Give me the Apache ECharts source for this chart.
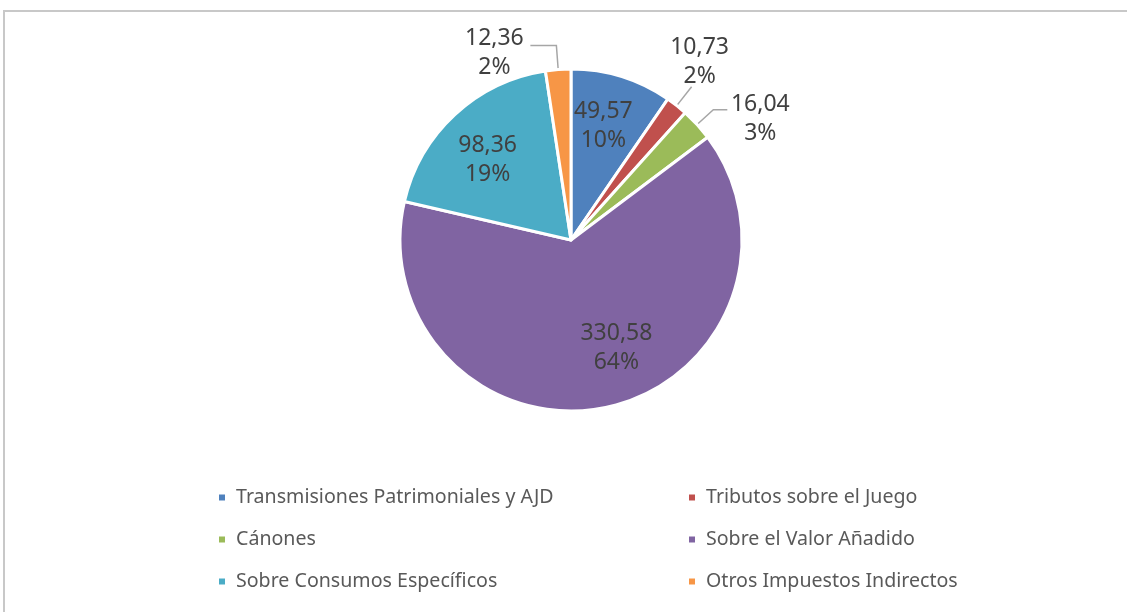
<!DOCTYPE html>
<html>
<head>
<meta charset="utf-8">
<script src="https://cdn.jsdelivr.net/npm/echarts@6/dist/echarts.min.js"></script>
<style>
html,body{margin:0;padding:0;background:#fff;}
#chart{width:1127px;height:612px;}
</style>
</head>
<body>
<div id="chart"></div>
<script>
const categories = ['Transmisiones Patrimoniales y AJD','Tributos sobre el Juego','Cánones','Sobre el Valor Añadido','Sobre Consumos Específicos','Otros Impuestos Indirectos'];
const values = [49.57, 10.73, 16.04, 330.58, 98.36, 12.36];
const colors = ['#4F81BD','#C0504D','#9BBB59','#8064A2','#4BACC6','#F79646'];
const insideLabel = [true, false, false, true, true, false];

const total = values.reduce((a,b)=>a+b,0);
const fmt = v => v.toFixed(2).replace('.', ',') + '\n' + Math.round(v/total*100) + '%';
const FONT = '"Noto Sans", sans-serif';
const center = [571, 240];
const R = 171;

// label nudges (styling only)
const outsideLine = {1:{length:24,length2:0}, 2:{length:22,length2:14}, 5:{length:24,length2:26}};
const outsideNudge = {1:[3,-25], 2:[28,9], 5:[-31,7]};
const insideNudge = {0:[-4,3], 3:[20,-12], 4:[0,10]};

const mainData = categories.map((c,i)=>({
  name:c, value:values[i], itemStyle:{color:colors[i]},
  label:{show:!insideLabel[i]},
  labelLine:Object.assign({show:!insideLabel[i]}, outsideLine[i]||{})
}));
const overlayData = categories.map((c,i)=>({
  name:c, value:values[i], label:{show:insideLabel[i]}
}));

const labelStyle = {formatter:p=>fmt(p.value), fontFamily:FONT, fontSize:23, color:'#404040', lineHeight:29};
const legendText = {fontFamily:FONT, fontSize:19.6, color:'#595959', lineHeight:23, padding:[0,0,0,5]};

const chart = echarts.init(document.getElementById('chart'));
chart.setOption({
  animation:false,
  color:colors,
  graphic:[{type:'rect', shape:{x:4, y:11, width:1300, height:800}, style:{fill:null, stroke:'#c8c8c8', lineWidth:2}, silent:true}],
  legend:[
    {data:[categories[0],categories[2],categories[4]], orient:'vertical', left:212, top:481, icon:'rect', itemWidth:8, itemHeight:8, itemGap:19,
     textStyle:legendText, selectedMode:false},
    {data:[categories[1],categories[3],categories[5]], orient:'vertical', left:682, top:481, icon:'rect', itemWidth:8, itemHeight:8, itemGap:19,
     textStyle:legendText, selectedMode:false}
  ],
  series:[
    {type:'pie', center:center, radius:[0,R], startAngle:90, clockwise:true, avoidLabelOverlap:false,
     itemStyle:{borderColor:'#fff', borderWidth:3},
     label:Object.assign({position:'outside'}, labelStyle),
     labelLine:{length:18, length2:14, lineStyle:{color:'#a6a6a6', width:1.5}},
     labelLayout:p=>{const n=outsideNudge[p.dataIndex]; return n?{dx:n[0],dy:n[1],align:'center',hideOverlap:false}:{hideOverlap:false};},
     data:mainData},
    {type:'pie', center:center, radius:[0,R*1.4], startAngle:90, clockwise:true, silent:true, avoidLabelOverlap:false,
     itemStyle:{color:'rgba(0,0,0,0)'}, legendHoverLink:false,
     label:Object.assign({position:'inside'}, labelStyle),
     labelLine:{show:false},
     labelLayout:p=>{const n=insideNudge[p.dataIndex]; return n?{dx:n[0],dy:n[1]}:{};},
     data:overlayData, tooltip:{show:false}}
  ]
});
</script>
</body>
</html>
